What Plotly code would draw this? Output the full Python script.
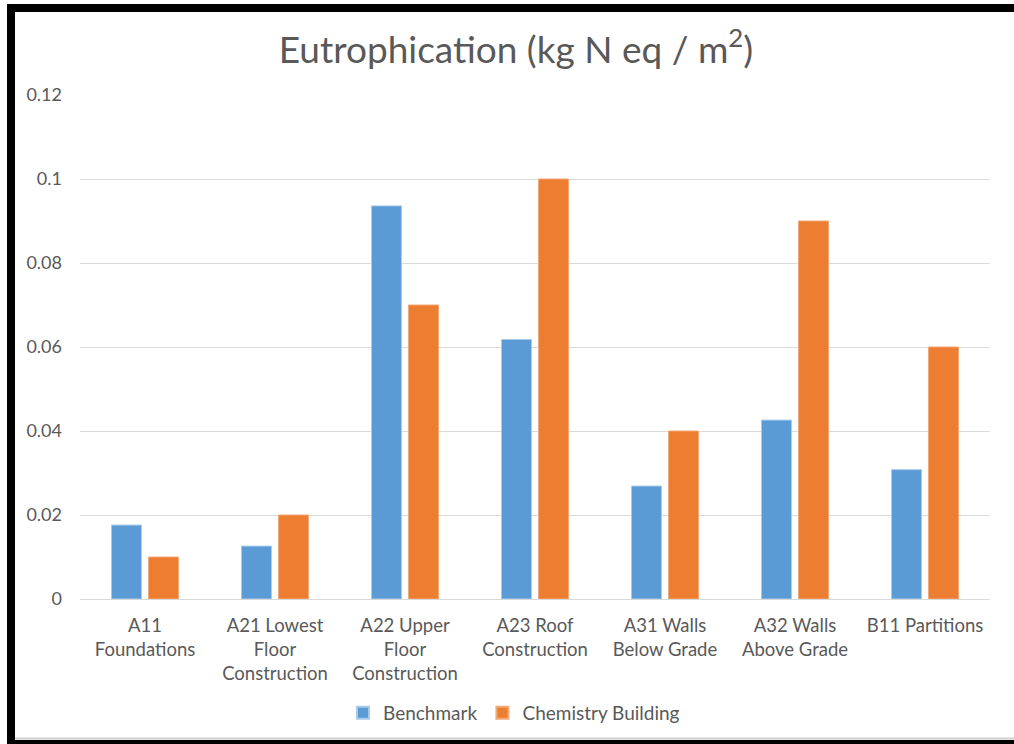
import plotly.graph_objects as go

categories = [
    "A11<br>Foundations",
    "A21 Lowest<br>Floor<br>Construction",
    "A22 Upper<br>Floor<br>Construction",
    "A23 Roof<br>Construction",
    "A31 Walls<br>Below Grade",
    "A32 Walls<br>Above Grade",
    "B11 Partitions",
]
benchmark = [0.0176, 0.0126, 0.0936, 0.0618, 0.0269, 0.0426, 0.0308]
chemistry_building = [0.01, 0.02, 0.07, 0.10, 0.04, 0.09, 0.06]
y_ticks = [0, 0.02, 0.04, 0.06, 0.08, 0.1, 0.12]
y_tick_labels = ["0", "0.02", "0.04", "0.06", "0.08", "0.1", "0.12"]

FONT = "Lato, 'Open Sans', sans-serif"
TEXT = "#595959"
W, H = 1014, 744
ML, MR, MT, MB = 80, 24, 95, 145
PW, PH = W - ML - MR, H - MT - MB


def px_x(px):
    return (px - ML) / PW


def px_y(py):
    return (H - MB - py) / PH


fig = go.Figure()
fig.add_trace(go.Bar(
    name="Benchmark", x=categories, y=benchmark,
    marker=dict(color="#5B9BD5", line=dict(color="#A9CBEA", width=1)),
))
fig.add_trace(go.Bar(
    name="Chemistry Building", x=categories, y=chemistry_building,
    marker=dict(color="#ED7D31", line=dict(color="#F3A877", width=1)),
))

# black frame around the chart area (top, left, bottom bands) plus a faint shadow line
frame = [
    (7, 4, W + 5, 12, "black"),
    (7, 4, 15, H + 5, "black"),
    (7, 740, W + 5, H + 5, "black"),
    (15, 737.5, W + 5, 739.5, "#D0D0D0"),
]
shapes = []
for x0, y0, x1, y1, c in frame:
    shapes.append(dict(
        type="rect", xref="paper", yref="paper",
        x0=px_x(x0), x1=px_x(x1), y0=px_y(y1), y1=px_y(y0),
        fillcolor=c, line=dict(width=0), layer="above",
    ))

fig.update_layout(
    width=W, height=H,
    margin=dict(l=ML, r=MR, t=MT, b=MB, pad=0),
    paper_bgcolor="white", plot_bgcolor="white",
    font=dict(family=FONT, color=TEXT, size=18),
    title=dict(
        text="Eutrophication (kg N eq / m<sup>2</sup>)",
        x=516 / W, xanchor="center", xref="container",
        y=1 - 50 / H, yanchor="middle", yref="container",
        font=dict(family=FONT, size=37, color=TEXT),
    ),
    barmode="group", bargap=0.43, bargroupgap=0.19,
    showlegend=True,
    legend=dict(
        orientation="h", x=px_x(514), xanchor="center",
        y=px_y(713), yanchor="middle",
        font=dict(family=FONT, size=19, color=TEXT),
        itemsizing="constant", traceorder="normal",
    ),
    shapes=shapes,
    xaxis=dict(
        showgrid=False, showline=False, zeroline=False,
        ticks="", ticklabelstandoff=13, tickangle=0,
        tickfont=dict(family=FONT, size=18.5, color=TEXT),
    ),
    yaxis=dict(
        range=[0, 0.12], tickvals=y_ticks, ticktext=y_tick_labels,
        showgrid=True, gridcolor="#D9D9D9", gridwidth=1,
        zeroline=True, zerolinecolor="#D9D9D9", zerolinewidth=1,
        showline=False, ticks="", ticklabelstandoff=17,
        tickfont=dict(family=FONT, size=18, color=TEXT),
    ),
)

fig.write_html("out.html")
